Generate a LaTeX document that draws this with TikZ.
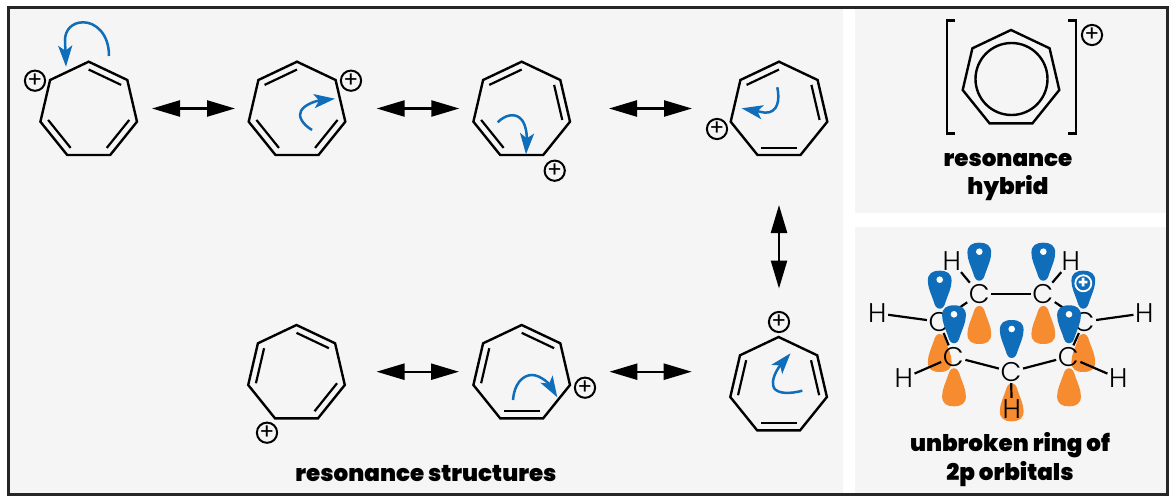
\documentclass[tikz,border=0pt]{standalone}
\usepackage{fontspec}
\usetikzlibrary{arrows.meta,calc}
\setmainfont{Poppins}
\newfontfamily\labfont{Poppins}[UprightFont=* Black]
\newfontfamily\atomfont{Poppins}[UprightFont=* Light]
\definecolor{panel}{HTML}{F5F5F5}
\definecolor{eblue}{HTML}{0F6DB9}
\definecolor{orb}{HTML}{F68B2F}
\tikzset{
  bond/.style={line width=2.4pt,line join=miter,black},
  thin bond/.style={line width=2.2pt,black},
  res/.style={line width=2.4pt,black,{Triangle[length=28pt,width=16pt]}-{Triangle[length=28pt,width=16pt]}},
  curly/.style={line width=2.5pt,eblue,-{Stealth[length=21pt,width=14pt,inset=5pt]}},
  chg/.style={circle,draw=black,line width=2pt,minimum size=20pt,inner sep=0pt,font=\fontsize{22}{22}\selectfont},
  captxt/.style={font=\labfont\fontsize{23}{23}\selectfont,text=black,inner sep=0pt},
  atom/.style={font=\atomfont\fontsize{27}{27}\selectfont,inner sep=1.5pt,text=black},
  lk/.style={line width=2.2pt,black},
}
\newcommand{\hept}[3]{%
  \coordinate (#11) at (#2,#3);
  \coordinate (#12) at ($(#2,#3)+(38.6,18.3)$);
  \coordinate (#13) at ($(#2,#3)+(48.3,60)$);
  \coordinate (#14) at ($(#2,#3)+(21.5,93.3)$);
  \coordinate (#15) at ($(#2,#3)+(-21.5,93.3)$);
  \coordinate (#16) at ($(#2,#3)+(-48.3,60)$);
  \coordinate (#17) at ($(#2,#3)+(-38.6,18.3)$);
  \coordinate (#1c) at ($(#2,#3)+(0,49)$);
  \draw[bond] (#11)--(#12)--(#13)--(#14)--(#15)--(#16)--(#17)--cycle;
}
\newcommand{\dbl}[3]{\draw[thin bond] ($(#1c)!.84!(#1#2)$)--($(#1c)!.84!(#1#3)$);}
\newcommand{\lobeblue}[2]{%
  \begin{scope}[shift={(#1,#2)},xscale=1.08]
  \fill[eblue] (0,38) .. controls (-3,38) and (-4.5,35) .. (-5.5,31) .. controls (-8,23) and (-11,17) .. (-11,10) .. controls (-11,3) and (-7,0) .. (0,0) .. controls (7,0) and (11,3) .. (11,10) .. controls (11,17) and (8,23) .. (5.5,31) .. controls (4.5,35) and (3,38) .. (0,38) -- cycle;
  \end{scope}}
\newcommand{\dotlobe}[2]{\lobeblue{#1}{#2}\fill[white] (#1,#2+9) circle (3.3);}
\newcommand{\lobeorange}[2]{%
  \begin{scope}[shift={(#1,#2)},xscale=1.08]
  \fill[orb] (0,0) .. controls (-3,0) and (-4.5,3) .. (-5.5,7) .. controls (-8,15) and (-11,21) .. (-11,28) .. controls (-11,35) and (-7,38) .. (0,38) .. controls (7,38) and (11,35) .. (11,28) .. controls (11,21) and (8,15) .. (5.5,7) .. controls (4.5,3) and (3,0) .. (0,0) -- cycle;
  \end{scope}}
\begin{document}
\begin{tikzpicture}[x=1pt,y=-1pt]
\useasboundingbox (0,0) rectangle (1176,503);
\fill[white] (0,0) rectangle (1176,503);
\fill[panel] (8,8) rectangle (843,494);
\fill[panel] (855,8) rectangle (1167,213);
\fill[panel] (855,227) rectangle (1167,494);
\draw[line width=3pt,black!85] (8,8) rectangle (1167,494);
% rings
\hept{a}{88.7}{61.7}\dbl{a}{1}{2}\dbl{a}{3}{4}\dbl{a}{5}{6}
\hept{b}{297}{61.7}\dbl{b}{7}{1}\dbl{b}{3}{4}\dbl{b}{5}{6}
\hept{d}{521.7}{61.7}\dbl{d}{7}{1}\dbl{d}{2}{3}\dbl{d}{5}{6}
\hept{e}{779}{61.7}\dbl{e}{7}{1}\dbl{e}{2}{3}\dbl{e}{4}{5}
\hept{f}{296.5}{325}\dbl{f}{1}{2}\dbl{f}{6}{7}\dbl{f}{3}{4}
\hept{g}{521.7}{325}\dbl{g}{1}{2}\dbl{g}{6}{7}\dbl{g}{4}{5}
\hept{h}{778.6}{337}\dbl{h}{6}{7}\dbl{h}{2}{3}\dbl{h}{4}{5}
% hybrid
\hept{k}{1011}{30}
\node[circle,draw=black,line width=2.4pt,minimum size=72pt,inner sep=0pt] (kc) at (1011.5,79) {};
\draw[bond] (954.7,20.7)--(946.7,20.7)--(946.7,133.3)--(954.7,133.3);
\draw[bond] (1067.7,20.7)--(1075.7,20.7)--(1075.7,133.3)--(1067.7,133.3);
% charges
\node[chg] (pa) at (35,80.7) {+};
\node[chg] (pb) at (351,80.7) {+};
\node[chg] (pd) at (554.7,170.7) {+};
\node[chg] (pe) at (717,129) {+};
\node[chg] (pf) at (267,432.7) {+};
\node[chg] (pg) at (585,387.7) {+};
\node[chg] (ph) at (779,322) {+};
\node[chg] (pk) at (1092,35) {+};
% resonance arrows
\coordinate (r1a) at (152,108.5); \coordinate (r1b) at (235,108.5);
\coordinate (r2a) at (376.7,108.5); \coordinate (r2b) at (459.3,108.5);
\coordinate (r3a) at (609,108.5); \coordinate (r3b) at (692,108.5);
\coordinate (r4a) at (779,205); \coordinate (r4b) at (779,288.5);
\coordinate (r5a) at (376.5,371.7); \coordinate (r5b) at (459,371.7);
\coordinate (r6a) at (609.4,371.7); \coordinate (r6b) at (691.7,371.7);
\draw[res] (r1a)--(r1b);
\draw[res] (r2a)--(r2b);
\draw[res] (r3a)--(r3b);
\draw[res] (r4a)--(r4b);
\draw[res] (r5a)--(r5b);
\draw[res] (r6a)--(r6b);
% curved arrows
\draw[curly] (109,56) .. controls (109,33) and (95,22.3) .. (83.3,22.3) .. controls (72,22.3) and (65,30) .. (65,40) -- (66,66.7);
\draw[curly] (312,130) .. controls (302,124) and (298,116) .. (301,111) .. controls (304,105) and (315,101) .. (335,98.7);
\draw[curly] (497.7,122.3) .. controls (505,115) and (514,113) .. (520,118) .. controls (526,123) and (527,135) .. (526,154.3);
\draw[curly] (777.3,87.3) .. controls (780,100) and (778,113) .. (765,112.7) -- (741.7,108.3);
\draw[curly] (513,400) .. controls (514,385) and (522,375) .. (532,375) .. controls (541,375) and (550,385) .. (557.3,397.3);
\draw[curly] (802.3,390.7) .. controls (790,394) and (778,394) .. (774,388) .. controls (770,380) and (778,368) .. (790.5,353.3);
% captions
\node[captxt] (t1) at (426,474) {resonance structures};
\node[captxt] (t2) at (1008,160) {resonance};
\node[captxt] (t3) at (1008,188.5) {hybrid};
\node[captxt] (t4) at (1010,445) {unbroken ring of};
\node[captxt] (t5) at (1010,474) {2p orbitals};
% orbitals: back layer
\dotlobe{939.7}{270.7}
\lobeblue{1083.3}{270.7}
\lobeorange{939.7}{334}
\lobeorange{1083.3}{334}
\lobeorange{979.3}{306}
\lobeorange{1043.3}{306}
\dotlobe{979.3}{242.7}
\dotlobe{1043.3}{242.7}
\node[circle,draw=white,line width=1.8pt,fill=eblue,minimum size=16pt,inner sep=0pt,text=white,font=\bfseries\fontsize{17}{17}\selectfont] (pl) at (1083.3,283.3) {+};
% atoms
\node[atom] (c1) at (979.3,294) {C};
\node[atom] (c2) at (1042.7,294) {C};
\node[atom] (c3) at (939,321.7) {C};
\node[atom] (c4) at (1084,321.7) {C};
\node[atom] (c5) at (953.3,356.7) {C};
\node[atom] (c6) at (1068.3,356.7) {C};
\node[atom] (c7) at (1011,371.7) {C};
\node[atom] (h1) at (951.7,261) {H};
\node[atom] (h2) at (1070.7,261) {H};
\node[atom] (h3) at (877.3,313.3) {H};
\node[atom] (h4) at (1144.3,313.3) {H};
\node[atom] (h5) at (903.7,378.3) {H};
\node[atom] (h6) at (1118.3,378.3) {H};
\draw[lk] (c1)--(c2);
\draw[lk] (c1)--(c3);
\draw[lk] (c2)--(c4);
\draw[lk] (c3)--(c5);
\draw[lk] (c4)--(c6);
\draw[lk] (c5)--(c7);
\draw[lk] (c6)--(c7);
\draw[lk] (c1)--(h1);
\draw[lk] (c2)--(h2);
\draw[lk] (c3)--(h3);
\draw[lk] (c4)--(h4);
\draw[lk] (c5)--(h5);
\draw[lk] (c6)--(h6);
% front lobes
\dotlobe{954}{305.3}
\dotlobe{1069}{305.3}
\dotlobe{1011.7}{320}
\lobeorange{954}{368.3}
\lobeorange{1069}{368.3}
\lobeorange{1011.7}{383.3}
\node[atom] (h7) at (1011.7,409) {H};
\draw[lk] (c7)--(h7);
\end{tikzpicture}
\end{document}
